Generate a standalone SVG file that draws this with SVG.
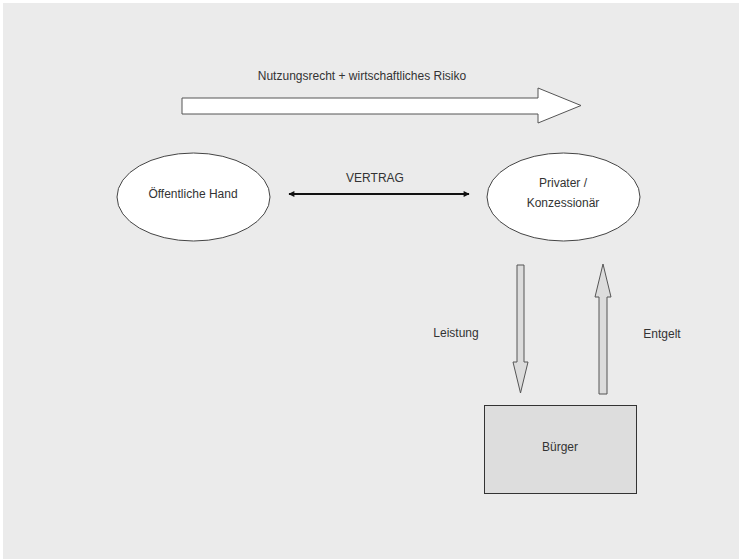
<svg xmlns="http://www.w3.org/2000/svg" width="739" height="559" viewBox="0 0 739 559">
<style>
text{font-family:"Liberation Sans",Arial,sans-serif;font-size:12px;fill:#333}
.node{fill:#fff;stroke:#444;stroke-width:1}
.fat{fill:#dcdcdc;stroke:#555;stroke-width:1}
</style>
<defs>
<marker id="ah" viewBox="0 0 10 10" refX="9" refY="5" markerWidth="8" markerHeight="6" orient="auto-start-reverse" markerUnits="userSpaceOnUse">
<path d="M0,0 L10,5 L0,10 z" fill="#111"/>
</marker>
</defs>
<rect width="739" height="559" fill="#fff"/>
<rect x="3" y="3" width="736" height="556" fill="#ebebeb"/>
<g id="connectors">
<path d="M182,98 L538,98 L538,88 L581,105.5 L538,123 L538,114 L182,114 Z" fill="#fff" stroke="#555" stroke-width="1"/>
<text x="362" y="80" text-anchor="middle">Nutzungsrecht + wirtschaftliches Risiko</text>
<line x1="289" y1="194" x2="469" y2="194" stroke="#111" stroke-width="2" marker-start="url(#ah)" marker-end="url(#ah)"/>
<text x="375" y="182" text-anchor="middle">VERTRAG</text>
<path class="fat" d="M517,265 L524,265 L524,362 L528,362 L520.5,393 L513,362 L517,362 Z"/>
<text x="456" y="337" text-anchor="middle">Leistung</text>
<path class="fat" d="M599,394 L607,394 L607,297 L611,297 L603,264 L595,297 L599,297 Z"/>
<text x="662" y="338" text-anchor="middle">Entgelt</text>
</g>
<g id="oeffentliche-hand">
<ellipse class="node" cx="193.5" cy="197" rx="76.5" ry="44"/>
<text x="193" y="198" text-anchor="middle">Öffentliche Hand</text>
</g>
<g id="privater">
<ellipse class="node" cx="563.5" cy="197" rx="76.5" ry="44"/>
<text x="563" y="187" text-anchor="middle">Privater /</text>
<text x="563" y="207" text-anchor="middle">Konzessionär</text>
</g>
<g id="buerger">
<rect x="484.5" y="405.5" width="152" height="88" fill="#dddddd" stroke="#333" stroke-width="1"/>
<text x="560" y="451" text-anchor="middle">Bürger</text>
</g>
</svg>
